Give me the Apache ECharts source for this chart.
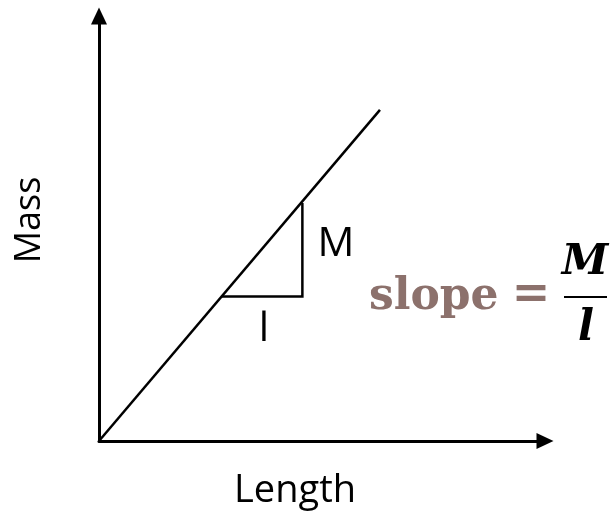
<!DOCTYPE html>
<html>
<head>
<meta charset="utf-8">
<script src="https://cdn.jsdelivr.net/npm/echarts@6/dist/echarts.min.js"></script>
<style>
  html, body { margin: 0; padding: 0; background: #fff; }
  #chart { width: 612px; height: 519px; }
</style>
</head>
<body>
<div id="chart"></div>
<script>
(function(){
    // data, in axis units (0..100 on both axes)
    var line_data = [[0, 0], [63.0, 77.9]]
    var triangle_data = [[27.5, 34.0], [45.6, 34.0], [45.6, 56.0]]
    var x_name = 'Length'
    var y_name = 'Mass'
    var rise_label = 'M'
    var run_label = 'l'

    var myChart = echarts.init(document.getElementById('chart'));

    var hiddenAxis = {
        type: 'value',
        min: 0,
        max: 100,
        axisLine: {
            show: true,
            symbol: ['none', 'triangle'],
            symbolSize: [16, 17],
            lineStyle: { color: '#000', width: 3 }
        },
        axisTick: { show: false },
        axisLabel: { show: false },
        splitLine: { show: false }
    };

    var sans = '"Open Sans", sans-serif';
    var serif = '"DejaVu Serif", serif';

    option = {
        animation: false,
        grid: {
            left: 99,
            right: 67,
            top: 16,
            bottom: 78,
            containLabel: false
        },
        xAxis: hiddenAxis,
        yAxis: hiddenAxis,
        series: [{
            name: 'line',
            type: 'line',
            showSymbol: false,
            lineStyle: { color: '#000', width: 2.5 },
            data: line_data
        }, {
            name: 'triangle',
            type: 'line',
            showSymbol: false,
            lineStyle: { color: '#000', width: 2.5, join: 'miter' },
            data: triangle_data
        }],
        graphic: [
            { type: 'text', x: 30, y: 220, rotation: Math.PI / 2,
              style: { text: y_name, font: '36px ' + sans, fill: '#000', align: 'center', verticalAlign: 'middle' } },
            { type: 'text', x: 295, y: 491,
              style: { text: x_name, font: '38px ' + sans, fill: '#000', align: 'center', verticalAlign: 'middle' } },
            { type: 'text', x: 336, y: 244,
              style: { text: rise_label, font: '41px ' + sans, fill: '#000', align: 'center', verticalAlign: 'middle' } },
            { type: 'text', x: 264, y: 329,
              style: { text: run_label, font: '41px ' + sans, fill: '#000', align: 'center', verticalAlign: 'middle' } },
            // slope = M / l
            { type: 'text', x: 369, y: 298,
              style: { text: 'slope', font: 'bold 44px ' + serif, fill: '#8c716c', align: 'left', verticalAlign: 'middle' } },
            { type: 'text', x: 531, y: 296,
              style: { text: '=', font: 'bold 46px ' + serif, fill: '#8c716c', align: 'center', verticalAlign: 'middle' } },
            { type: 'text', x: 585, y: 263,
              style: { text: 'M', font: 'italic bold 42px ' + serif, fill: '#000', align: 'center', verticalAlign: 'middle' } },
            { type: 'line', shape: { x1: 564, y1: 297, x2: 607, y2: 297 },
              style: { stroke: '#000', lineWidth: 2 } },
            { type: 'text', x: 586, y: 329,
              style: { text: 'l', font: 'italic bold 42px ' + serif, fill: '#000', align: 'center', verticalAlign: 'middle' } }
        ]
    };

    myChart.setOption(option)
})()
</script>
</body>
</html>
